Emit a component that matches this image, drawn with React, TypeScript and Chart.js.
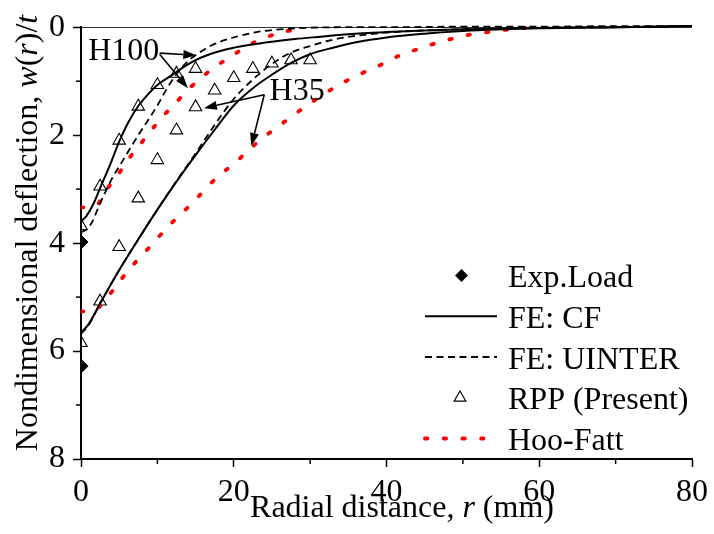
import React, { useEffect, useRef } from 'react';
import { Chart, registerables } from 'chart.js';
Chart.register(...registerables);

const FONT = "'Liberation Serif', 'Times New Roman', Times, serif";

// ---- data (r in mm, w/t nondimensional) ----
const expR = [0, 0];
const expW = [3.98, 6.28];

const h100CfR = [0, 0.7, 1.6, 2.5, 3.8, 5, 6.2, 7.5, 8.8, 10, 11, 12, 13, 14, 15, 16.5, 18, 20, 22, 25, 28, 31, 35, 40, 45, 50, 60, 70, 80];
const h100CfW = [3.6, 3.5, 3.28, 2.98, 2.55, 2.12, 1.76, 1.46, 1.24, 1.07, 0.97, 0.88, 0.78, 0.69, 0.61, 0.52, 0.45, 0.38, 0.33, 0.27, 0.22, 0.18, 0.13, 0.09, 0.06, 0.04, 0.015, 0.0, -0.02];

const h35CfR = [0, 1, 2.5, 5, 7.5, 10, 12.5, 15, 17.5, 20, 22.5, 25, 27.5, 30, 33, 36, 40, 45, 50, 60, 70, 80];
const h35CfW = [5.66, 5.5, 5.12, 4.5, 3.93, 3.38, 2.86, 2.37, 1.9, 1.45, 1.13, 0.88, 0.66, 0.5, 0.38, 0.28, 0.19, 0.12, 0.07, 0.02, 0.0, -0.02];

const h100UiR = [0, 0.8, 1.5, 2.3, 3.2, 4, 5, 6.2, 7.5, 8.8, 10, 11.2, 12, 13, 14, 15.5, 17.5, 20, 23, 26, 30, 35, 40, 50, 60, 70, 80];
const h100UiW = [3.8, 3.74, 3.6, 3.33, 3.05, 2.82, 2.58, 2.3, 2.0, 1.72, 1.45, 1.15, 0.97, 0.78, 0.63, 0.47, 0.31, 0.19, 0.09, 0.04, 0.01, 0.0, 0.0, -0.01, -0.01, -0.02, -0.02];

const h35UiR = [0, 1, 2.5, 5, 7.5, 10, 12.5, 15, 17.5, 20, 22.5, 25, 27.5, 30, 33, 36, 40, 45, 50, 60, 70, 80];
const h35UiW = [5.68, 5.52, 5.12, 4.5, 3.93, 3.38, 2.85, 2.34, 1.81, 1.33, 0.97, 0.68, 0.47, 0.35, 0.23, 0.16, 0.1, 0.06, 0.04, 0.01, 0.0, -0.02];

const rppH100R = [0, 2.5, 5, 7.5, 10, 12.5, 15];
const rppH100W = [3.68, 2.95, 2.1, 1.47, 1.07, 0.86, 0.77];

const rppH35R = [0, 2.5, 5, 7.5, 10, 12.5, 15, 17.5, 20, 22.5, 25, 27.5, 30];
const rppH35W = [5.85, 5.08, 4.07, 3.17, 2.46, 1.91, 1.48, 1.17, 0.94, 0.77, 0.67, 0.61, 0.61];

const hfH100R = [0, 2, 3.35, 4.9, 6.3, 7.7, 9.1, 10.6, 12.3, 14, 15.8, 17.7, 19.7, 21.6, 24, 26.4, 28.9];
const hfH100W = [3.34, 3.3, 3.01, 2.72, 2.43, 2.18, 1.93, 1.67, 1.42, 1.16, 0.93, 0.72, 0.54, 0.36, 0.2, 0.09, 0.03];

const hfH35R = [0, 2, 3.7, 5.1, 6.6, 8.3, 9.9, 11.5, 13.4, 15.1, 16.8, 18.6, 20.5, 22.3, 24.1, 26, 27.9, 29.9, 31.9, 34, 37.3, 39.5, 41.6, 44, 46.4, 48.7, 51.2, 53.7, 56.1, 58.6];
const hfH35W = [5.27, 5.22, 4.96, 4.7, 4.44, 4.18, 3.93, 3.68, 3.42, 3.18, 2.92, 2.69, 2.47, 2.23, 2.02, 1.82, 1.62, 1.42, 1.23, 1.05, 0.82, 0.68, 0.53, 0.41, 0.3, 0.21, 0.13, 0.085, 0.04, 0.01];

const xTickValues = [0, 20, 40, 60, 80];
const xTickLabels = ['0', '20', '40', '60', '80'];
const yTickValues = [0, 2, 4, 6, 8];
const yTickLabels = ['0', '2', '4', '6', '8'];
const xMinorTicks = [10, 30, 50, 70];
const yMinorTicks = [1, 3, 5, 7];

const legendLabels = ['Exp.Load', 'FE: CF', 'FE: UINTER', 'RPP (Present)', 'Hoo-Fatt'];

// annotation labels and arrows (data coordinates)
const annotNames = ['H100', 'H35'];
const annotR = [5.6, 28.3];
const annotW = [0.46, 1.19];
const arrowFromR = [10.3, 10.3, 24.0, 24.0];
const arrowFromW = [0.48, 0.5, 1.25, 1.25];
const arrowToR = [15.1, 14.0, 16.1, 22.3];
const arrowToW = [0.52, 1.13, 1.5, 2.2];

const pts = (xs: number[], ys: number[]) => xs.map((x, i) => ({ x, y: ys[i] }));

const SOLID = { borderColor: '#000', borderWidth: 2, borderDash: [] as number[] };
const DASHED = { borderColor: '#000', borderWidth: 1.8, borderDash: [7, 4.5] };
const DOTTED = { borderColor: '#ff0000', borderWidth: 3.8, borderDash: [2.4, 16.3], borderCapStyle: 'round' as const };

function lineDs(label: string, xs: number[], ys: number[], style: any) {
  return {
    label,
    data: pts(xs, ys),
    showLine: true,
    fill: false,
    pointRadius: 0,
    cubicInterpolationMode: 'monotone' as const,
    clip: { left: 0, top: 4, right: 4, bottom: 0 },
    ...style,
  };
}

function drawRich(ctx: CanvasRenderingContext2D, parts: [string, boolean][], cx: number, y: number, size: number) {
  const widths = parts.map(([t, it]) => {
    ctx.font = `${it ? 'italic ' : ''}${size}px ${FONT}`;
    return ctx.measureText(t).width;
  });
  const total = widths.reduce((a, b) => a + b, 0);
  let x = cx - total / 2;
  ctx.textAlign = 'left';
  ctx.textBaseline = 'alphabetic';
  parts.forEach(([t, it], i) => {
    ctx.font = `${it ? 'italic ' : ''}${size}px ${FONT}`;
    ctx.fillText(t, x, y);
    x += widths[i];
  });
}

function drawArrow(ctx: CanvasRenderingContext2D, x1: number, y1: number, x2: number, y2: number) {
  const ang = Math.atan2(y2 - y1, x2 - x1);
  const headLen = 13, headW = 4.5;
  const bx = x2 - headLen * Math.cos(ang), by = y2 - headLen * Math.sin(ang);
  ctx.beginPath();
  ctx.moveTo(x1, y1);
  ctx.lineTo(bx, by);
  ctx.stroke();
  ctx.beginPath();
  ctx.moveTo(x2, y2);
  ctx.lineTo(bx + headW * Math.sin(ang), by - headW * Math.cos(ang));
  ctx.lineTo(bx - headW * Math.sin(ang), by + headW * Math.cos(ang));
  ctx.closePath();
  ctx.fill();
}

const extrasPlugin = {
  id: 'extras',
  afterDraw(chart: any) {
    const ctx: CanvasRenderingContext2D = chart.ctx;
    const xs = chart.scales.x, ys = chart.scales.y;
    const area = chart.chartArea;
    ctx.save();
    ctx.fillStyle = '#000';
    ctx.strokeStyle = '#000';

    // minor ticks
    ctx.lineWidth = 1.5;
    yMinorTicks.forEach((v) => {
      const py = ys.getPixelForValue(v);
      ctx.beginPath();
      ctx.moveTo(area.left - 5, py);
      ctx.lineTo(area.left, py);
      ctx.stroke();
    });
    xMinorTicks.forEach((v) => {
      const px = xs.getPixelForValue(v);
      ctx.beginPath();
      ctx.moveTo(px, area.bottom);
      ctx.lineTo(px, area.bottom + 5);
      ctx.stroke();
    });

    // axis titles
    drawRich(ctx, [['Radial distance, ', false], ['r', true], [' (mm)', false]], 402, 517, 32);
    ctx.save();
    ctx.translate(37, 233);
    ctx.rotate(-Math.PI / 2);
    drawRich(ctx, [['Nondimensional deflection, ', false], ['w', true], ['(', false], ['r', true], [')/', false], ['t', true]], 0, 0, 32);
    ctx.restore();

    // annotations
    ctx.font = `32px ${FONT}`;
    ctx.textAlign = 'center';
    ctx.textBaseline = 'middle';
    annotNames.forEach((n, i) => {
      ctx.fillText(n, xs.getPixelForValue(annotR[i]), ys.getPixelForValue(annotW[i]));
    });
    ctx.lineWidth = 1.6;
    arrowFromR.forEach((r, i) => {
      drawArrow(ctx, xs.getPixelForValue(r), ys.getPixelForValue(arrowFromW[i]),
        xs.getPixelForValue(arrowToR[i]), ys.getPixelForValue(arrowToW[i]));
    });

    // legend
    const lx0 = 425, lx1 = 497, tx = 508, base0 = 287, step = 40.75;
    ctx.textAlign = 'left';
    ctx.textBaseline = 'alphabetic';
    ctx.font = `32px ${FONT}`;
    legendLabels.forEach((lab, i) => {
      const by = base0 + i * step;
      const cy = by - 11.5;
      ctx.fillStyle = '#000';
      ctx.fillText(lab, tx, by);
      ctx.save();
      if (i === 0) {
        const r = 6.5;
        ctx.beginPath();
        ctx.moveTo(461.5, cy - r);
        ctx.lineTo(461.5 + r, cy);
        ctx.lineTo(461.5, cy + r);
        ctx.lineTo(461.5 - r, cy);
        ctx.closePath();
        ctx.fill();
      } else if (i === 3) {
        const r = 6.8;
        ctx.lineWidth = 1.1;
        ctx.beginPath();
        ctx.moveTo(460, cy - r);
        ctx.lineTo(460 + r * 0.866, cy + r * 0.5);
        ctx.lineTo(460 - r * 0.866, cy + r * 0.5);
        ctx.closePath();
        ctx.stroke();
      } else {
        const st = i === 1 ? SOLID : i === 2 ? DASHED : DOTTED;
        ctx.strokeStyle = st.borderColor;
        ctx.lineWidth = st.borderWidth;
        ctx.setLineDash(st.borderDash);
        ctx.lineCap = i === 4 ? 'round' : 'butt';
        ctx.beginPath();
        ctx.moveTo(lx0, cy);
        ctx.lineTo(lx1, cy);
        ctx.stroke();
      }
      ctx.restore();
    });
    ctx.restore();
  },
};

export default function App() {
  const ref = useRef<HTMLCanvasElement | null>(null);
  useEffect(() => {
    if (!ref.current) return;
    const chart = new Chart(ref.current, {
      type: 'scatter',
      data: {
        datasets: [
          lineDs('H100 FE: CF', h100CfR, h100CfW, SOLID),
          lineDs('H35 FE: CF', h35CfR, h35CfW, SOLID),
          lineDs('H100 FE: UINTER', h100UiR, h100UiW, DASHED),
          lineDs('H35 FE: UINTER', h35UiR, h35UiW, DASHED),
          lineDs('H100 Hoo-Fatt', hfH100R, hfH100W, DOTTED),
          lineDs('H35 Hoo-Fatt', hfH35R, hfH35W, DOTTED),
          {
            label: 'H100 RPP (Present)',
            data: pts(rppH100R, rppH100W),
            showLine: false,
            pointStyle: 'triangle',
            pointRadius: 7.2,
            borderColor: '#000',
            borderWidth: 1.1,
            backgroundColor: 'rgba(255,255,255,0)',
          },
          {
            label: 'H35 RPP (Present)',
            data: pts(rppH35R, rppH35W),
            showLine: false,
            pointStyle: 'triangle',
            pointRadius: 7.2,
            borderColor: '#000',
            borderWidth: 1.1,
            backgroundColor: 'rgba(255,255,255,0)',
          },
          {
            label: 'Exp.Load',
            data: pts(expR, expW),
            showLine: false,
            pointStyle: 'rectRot',
            pointRadius: 7,
            borderColor: '#000',
            borderWidth: 1,
            backgroundColor: '#000',
          },
        ] as any,
      },
      options: {
        responsive: false,
        animation: false,
        devicePixelRatio: 1,
        layout: { padding: { top: 21, right: 20, left: 0, bottom: 0 } },
        plugins: { legend: { display: false }, tooltip: { enabled: false } },
        scales: {
          x: {
            type: 'linear',
            min: 0,
            max: 80,
            afterFit: (s: any) => { s.height = 75; },
            afterBuildTicks: (s: any) => { s.ticks = xTickValues.map((v) => ({ value: v })); },
            ticks: {
              autoSkip: false,
              maxRotation: 0,
              padding: 6,
              color: '#000',
              font: { family: FONT, size: 32 },
              callback: (v: any) => xTickLabels[xTickValues.indexOf(Number(v))] ?? '',
            },
            grid: { drawOnChartArea: false, drawTicks: true, tickLength: 8, tickColor: '#000', tickWidth: 1.5 },
            border: { display: true, color: '#000', width: 2 },
          },
          y: {
            type: 'linear',
            reverse: true,
            min: 0,
            max: 8,
            afterFit: (s: any) => { s.width = 81; },
            afterBuildTicks: (s: any) => { s.ticks = yTickValues.map((v) => ({ value: v })); },
            ticks: {
              autoSkip: false,
              padding: 8,
              color: '#000',
              font: { family: FONT, size: 32 },
              callback: (v: any) => yTickLabels[yTickValues.indexOf(Number(v))] ?? '',
            },
            grid: {
              drawOnChartArea: true,
              color: (c: any) => (c.tick && c.tick.value === 0 ? '#333' : 'rgba(0,0,0,0)'),
              lineWidth: 1,
              drawTicks: true,
              tickLength: 8,
              tickColor: '#000',
              tickWidth: 1.5,
            },
            border: { display: true, color: '#000', width: 2 },
          },
        },
      } as any,
      plugins: [extrasPlugin],
    });
    return () => chart.destroy();
  }, []);
  return (
    <div style={{ position: 'fixed', left: 0, top: 0, width: 714, height: 534, background: '#fff' }}>
      <canvas ref={ref} width={714} height={534} style={{ display: 'block' }} />
    </div>
  );
}
